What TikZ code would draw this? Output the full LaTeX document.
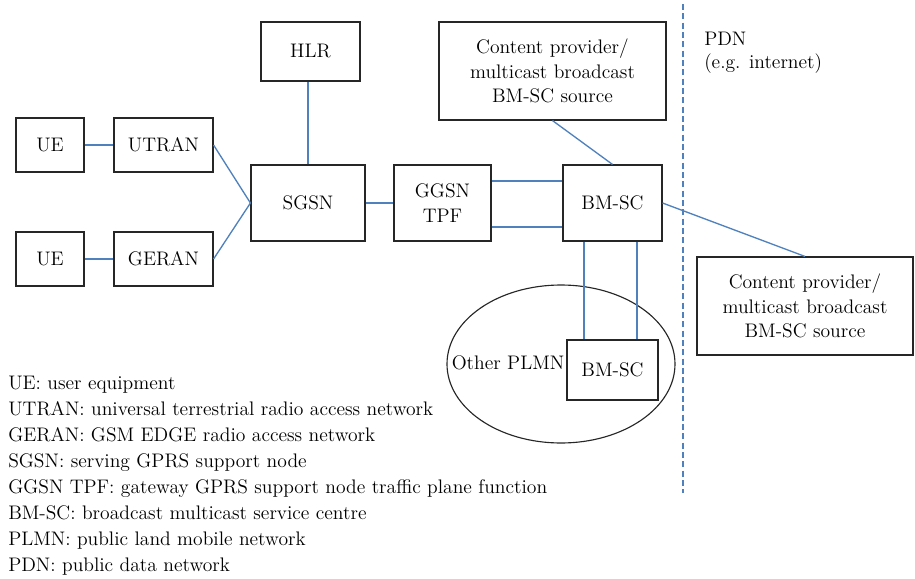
\documentclass[tikz,border=0pt]{standalone}
\usepackage{fontspec}
\usepackage{tikz}
\usetikzlibrary{shapes}
\usepackage{xcolor}
\definecolor{linkblue}{RGB}{79,129,189}

\begin{document}
\begin{tikzpicture}[x=0.75pt,y=0.75pt,yscale=-1,xscale=1,
  every node/.style={font=\fontsize{14.7}{18.4}\selectfont},
  box/.style={draw=black!85, line width=0.85pt, rectangle, inner sep=0pt, align=center},
  link/.style={draw=linkblue, line width=1pt},
  border/.style={draw=linkblue, line width=1pt, dash pattern=on 4.5pt off 2.5pt}]
%set diagram to the size of the reference
\useasboundingbox (0,0) rectangle (915,579);

%Shape: Ellipse [other PLMN]
\draw (561,364) node [draw=black!85, line width=0.85pt, ellipse, minimum width=171pt, minimum height=118.5pt] (plmn) {};

%Shape: Rectangle [UE]
\draw (50,145) node [box, minimum width=51pt, minimum height=40.5pt] (ue1) {UE};
%Shape: Rectangle [UE]
\draw (50,259) node [box, minimum width=51pt, minimum height=40.5pt] (ue2) {UE};
%Shape: Rectangle [UTRAN]
\draw (163.5,145) node [box, minimum width=74.25pt, minimum height=40.5pt] (utran) {UTRAN};
%Shape: Rectangle [GERAN]
\draw (163.5,259) node [box, minimum width=74.25pt, minimum height=40.5pt] (geran) {GERAN};
%Shape: Rectangle [SGSN]
\draw (308,203) node [box, minimum width=85.5pt, minimum height=57pt] (sgsn) {SGSN};
%Shape: Rectangle [HLR]
\draw (310.5,51.5) node [box, minimum width=74.25pt, minimum height=44.25pt] (hlr) {HLR};
%Shape: Rectangle [GGSN TPF]
\draw (442.5,203) node [box, minimum width=72.75pt, minimum height=57pt] (ggsn) {GGSN\\TPF};
%Shape: Rectangle [BM-SC]
\draw (612.5,203) node [box, minimum width=74.25pt, minimum height=57pt] (bmsc) {BM-SC};
%Shape: Rectangle [BM-SC, other PLMN]
\draw (612.5,370) node [box, minimum width=68.25pt, minimum height=45pt] (bmsc2) {BM-SC};
%Shape: Rectangle [content provider]
\draw (552.5,71) node [box, minimum width=170.25pt, minimum height=73.5pt] (cp1) {Content provider/\\multicast broadcast\\BM-SC source};
%Shape: Rectangle [content provider]
\draw (805,306) node [box, minimum width=162pt, minimum height=73.5pt] (cp2) {Content provider/\\multicast broadcast\\BM-SC source};

%Straight Lines
\draw [link] (ue1) -- (utran);
\draw [link] (ue2) -- (geran);
\draw [link] (utran.east) -- (sgsn.west);
\draw [link] (geran.east) -- (sgsn.west);
\draw [link] (sgsn.north) -- (sgsn.north |- hlr.south);
\draw [link] (sgsn) -- (ggsn);
\draw [link] ([yshift=18pt]ggsn.east) -- ([yshift=18pt]ggsn.east -| bmsc.west);
\draw [link] ([yshift=-16.5pt]ggsn.east) -- ([yshift=-16.5pt]ggsn.east -| bmsc.west);
\draw [link] (cp1.south) -- (bmsc.north);
\draw [link] (bmsc.east) -- (cp2.north);
\draw [link] ([xshift=-21.4pt]bmsc.south) -- ([xshift=-21.4pt]bmsc2.north);
\draw [link] ([xshift=18.4pt]bmsc.south) -- ([xshift=18.4pt]bmsc2.north);

%Dashed Lines [PLMN / PDN border]
\draw [border] (683,4) -- (683,493);

% Text Node
\draw (508,363) node (plmnlabel) {Other PLMN};
% Text Node
\draw (704,32) node [anchor=north west, inner sep=0pt, align=left, font=\fontsize{14.7}{17.25}\selectfont] (pdn) {PDN\\(e.g. internet)};
% Text Node
\draw (8,376) node [anchor=north west, inner sep=0pt, align=left, font=\fontsize{14.7}{19.5}\selectfont] (legend) {UE: user equipment\\
UTRAN: universal terrestrial radio access network\\
GERAN: GSM EDGE radio access network\\
SGSN: serving GPRS support node\\
GGSN TPF: gateway GPRS support node traffic plane function\\
BM-SC: broadcast multicast service centre\\
PLMN: public land mobile network\\
PDN: public data network};

\end{tikzpicture}
\end{document}
